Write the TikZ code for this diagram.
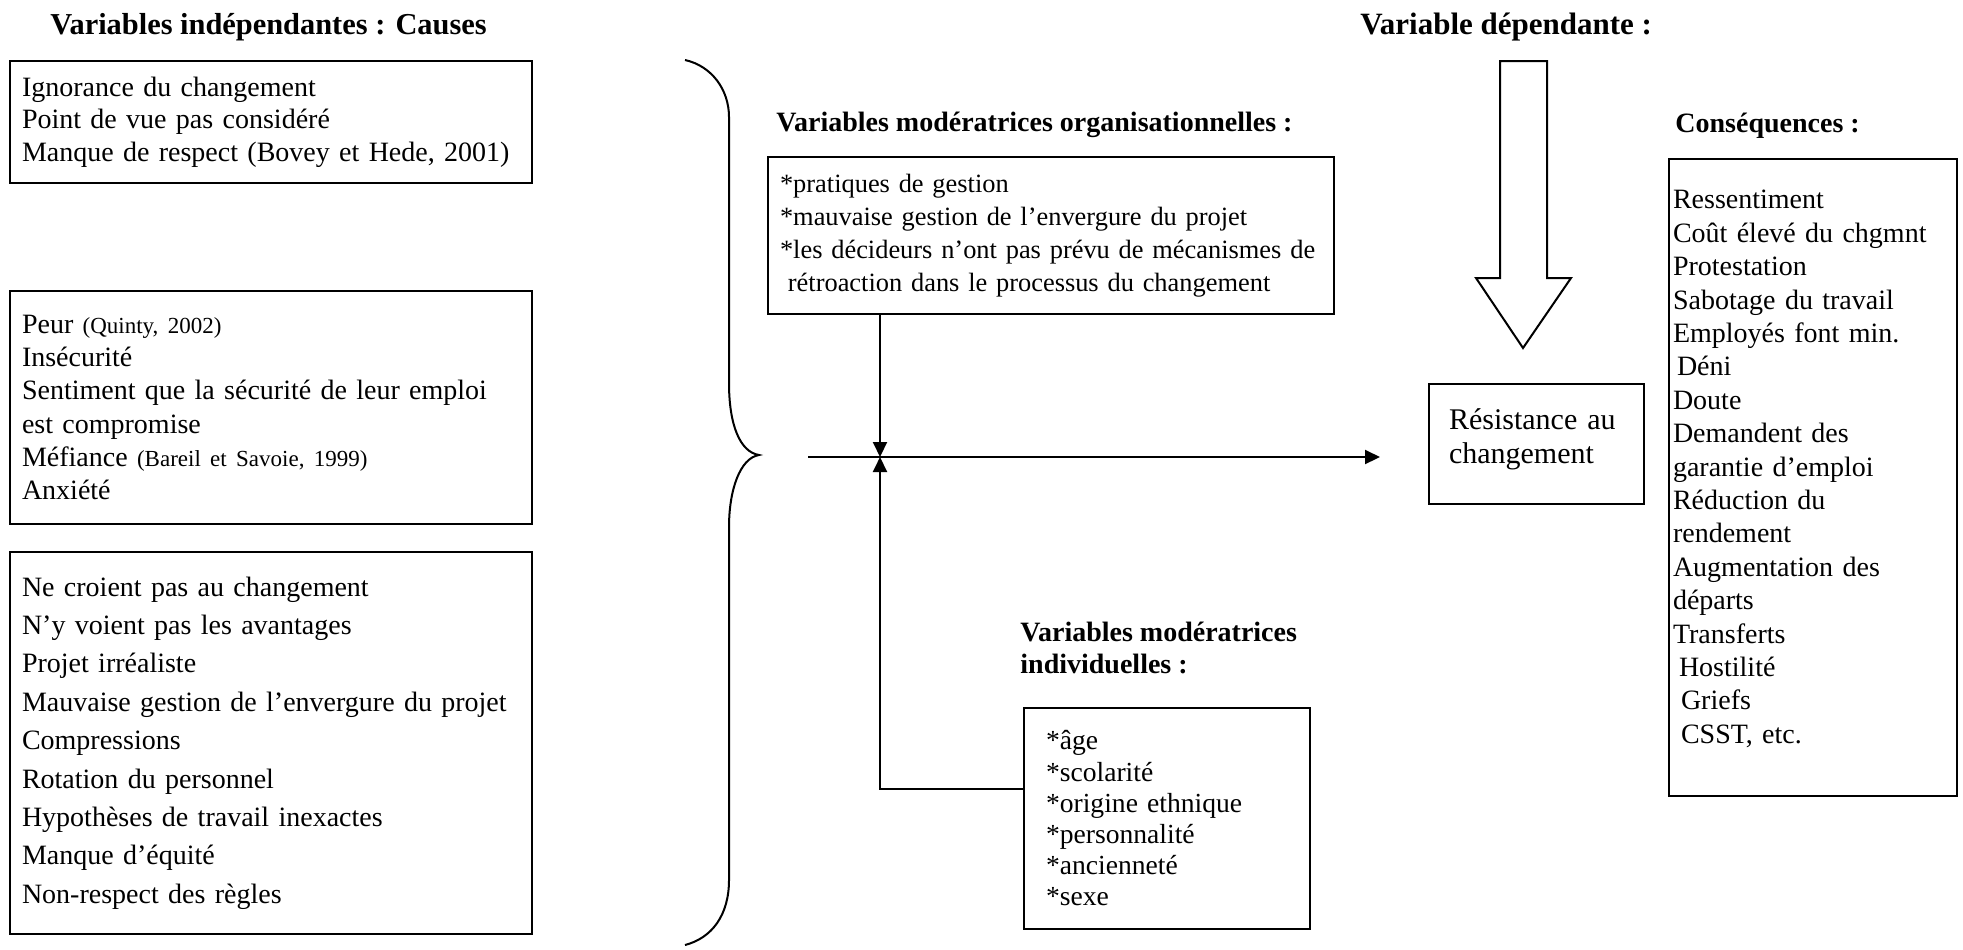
\documentclass[tikz,border=0pt]{standalone}
\usepackage{fontspec}
\setmainfont{Liberation Serif}
\usepackage{tikz}
\usetikzlibrary{arrows.meta, positioning, calc}
\tikzstyle{arrow} = [line width=1pt, -{Triangle[length=7.5pt,width=7pt]}]
\newcommand{\citesm}[1]{{\fontsize{11.5}{13}\selectfont #1}}

\begin{document}
\begin{tikzpicture}[
	x=0.5pt, y=-0.5pt,
	every node/.style={font=\fontsize{13.2}{16.5}\selectfont},
	cause/.style={rectangle, draw=black, line width=1pt, anchor=north west, align=left, inner xsep=6pt, minimum width=261pt, text width=249pt, font=\fontsize{14}{16.6}\selectfont},
	box/.style={rectangle, draw=black, line width=1pt, anchor=north west, align=left},
	heading/.style={anchor=west, inner sep=0pt, font=\bfseries\fontsize{14}{16}\selectfont}
]
\useasboundingbox (0,0) rectangle (1963,949);

% Independent variables (causes)
\node[heading, font=\bfseries\fontsize{15.2}{18}\selectfont] (titleCauses) at (50,27) {Variables indépendantes : Causes};
\node[cause, minimum height=61pt, font=\fontsize{14}{16.3}\selectfont] (cause1) at (9,60) {Ignorance du changement\\ Point de vue pas considéré\\ Manque de respect (Bovey et Hede, 2001)};
\node[cause, minimum height=116.5pt] (cause2) at (9,290) {Peur \citesm{(Quinty, 2002)}\\ Insécurité\\ Sentiment que la sécurité de leur emploi\\ est compromise\\ Méfiance \citesm{(Bareil et Savoie, 1999)}\\ Anxiété};
\node[cause, minimum height=191pt, font=\fontsize{14}{19.2}\selectfont] (cause3) at (9,551) {Ne croient pas au changement\\ N’y voient pas les avantages\\ Projet irréaliste\\ Mauvaise gestion de l’envergure du projet\\ Compressions\\ Rotation du personnel\\ Hypothèses de travail inexactes\\ Manque d’équité\\ Non-respect des règles};

% Brace gathering the causes
\draw[line width=1pt] (685,60) .. controls (712,66) and (729,90) .. (729,117) -- (729,383)
	.. controls (729,425) and (740,452) .. (759,455)
	.. controls (740,458) and (729,490) .. (729,527) -- (729,880)
	.. controls (729,915) and (712,938) .. (685,945);

% Moderating variables
\node[heading] (titleOrg) at (776,125) {Variables modératrices organisationnelles :};
\node[box, minimum width=283pt, minimum height=78.5pt, inner xsep=6pt, text width=271pt, font=\fontsize{13.2}{16.5}\selectfont] (orgbox) at (767,156) {*pratiques de gestion\\ {*}mauvaise gestion de l’envergure du projet\\ {*}les décideurs n’ont pas prévu de mécanismes de\\ \hspace*{0.3em}rétroaction dans le processus du changement};

\node[heading, align=left] (titleIndiv) at (1020,648) {Variables modératrices\\ individuelles :};
\node[box, minimum width=143pt, minimum height=110.5pt, inner xsep=11pt, text width=121pt, font=\fontsize{13.8}{15.6}\selectfont] (indiv) at (1023,707) {*âge\\ {*}scolarité\\ {*}origine ethnique\\ {*}personnalité\\ {*}ancienneté\\ {*}sexe};

\coordinate (start) at (808,457);
\coordinate (jn) at (880,457);
\coordinate (elbow) at (880,789);

% Dependent variable
\node[heading, font=\bfseries\fontsize{15.5}{18}\selectfont] (titleDep) at (1360,27) {Variable dépendante :};
\draw[line width=1pt] (1500,61) -- (1547,61) -- (1547,278) -- (1571,278) -- (1523,348) -- (1476,278) -- (1500,278) -- cycle;
\node[box, minimum width=107.5pt, minimum height=60pt, inner xsep=10pt, text width=87.5pt, font=\fontsize{15}{17}\selectfont] (resist) at (1428,383) {Résistance au\\ changement\\[-9pt] \mbox{}};

% Consequences
\node[heading] (titleConseq) at (1675,126) {Conséquences :};
\node[box, minimum width=144pt, minimum height=318.5pt, inner xsep=2pt, text width=140pt, font=\fontsize{14}{16.7}\selectfont] (conseq) at (1668,158) {Ressentiment\\ Coût élevé du chgmnt\\ Protestation\\ Sabotage du travail\\ Employés font min.\\ \hspace*{2pt}Déni\\ Doute\\ Demandent des\\ garantie d’emploi\\ Réduction du\\ rendement\\ Augmentation des\\ départs\\ Transferts\\ \hspace*{3pt}Hostilité\\ \hspace*{4pt}Griefs\\ \hspace*{4pt}CSST, etc.\\[-6pt] \mbox{}};

% Connectors
\draw[arrow, shorten >=24pt] (start) -- (start -| resist.west);
\draw[arrow] (orgbox.south -| jn) -- (jn);
\draw[arrow] (indiv.west |- elbow) -- (elbow) -- (jn);

\end{tikzpicture}
\end{document}
